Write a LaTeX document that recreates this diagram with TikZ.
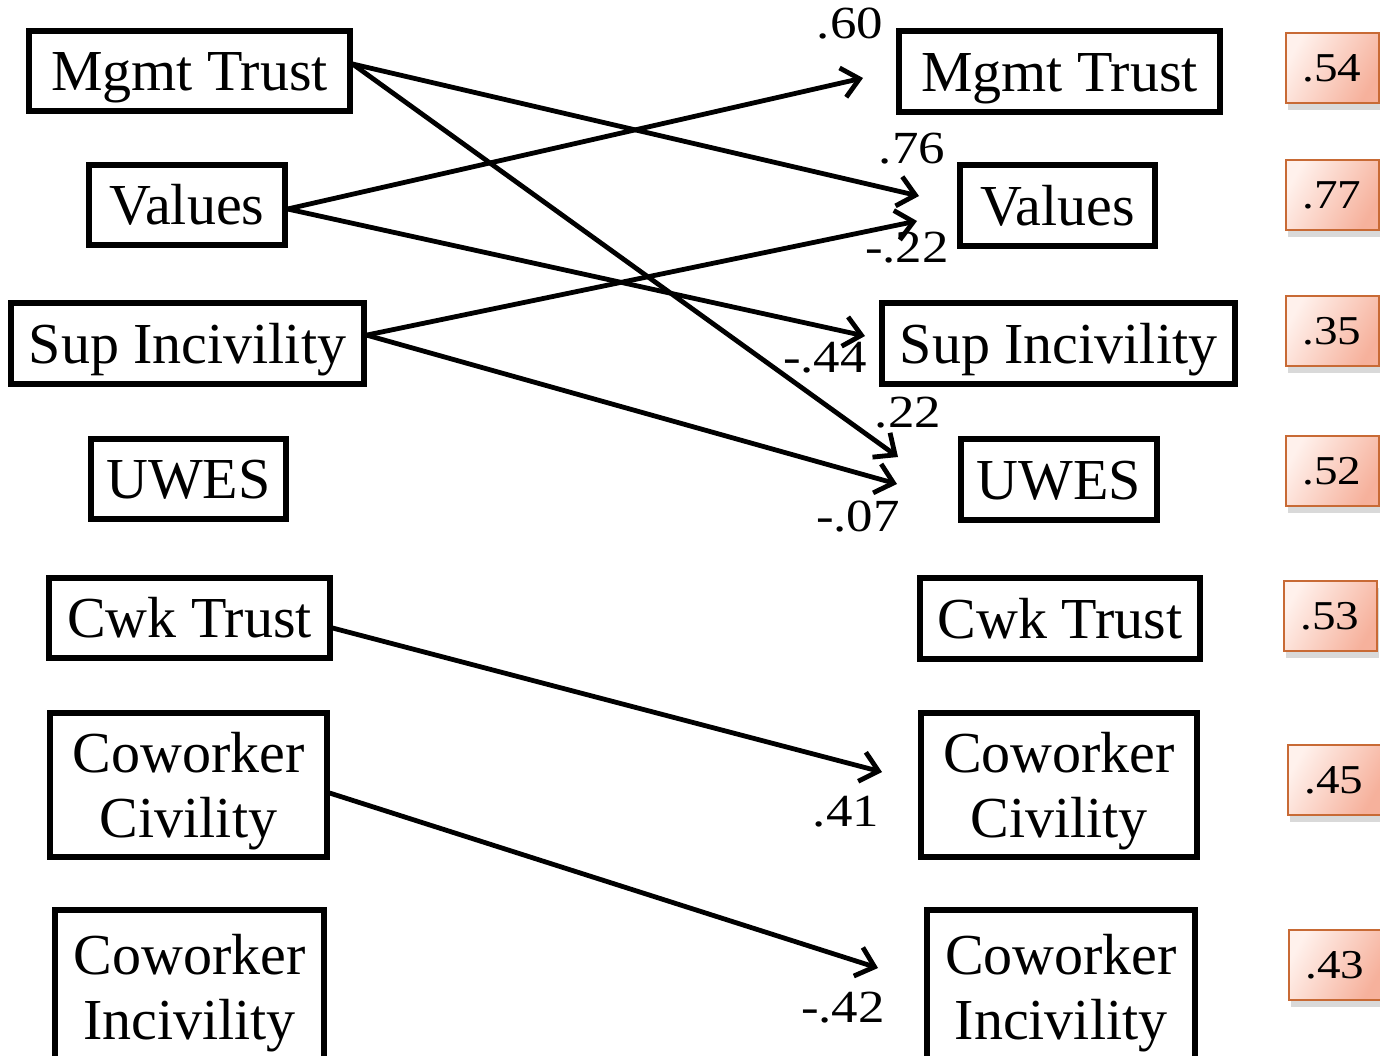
\documentclass[tikz,border=0pt]{standalone}
\usepackage{fontspec}
\setmainfont{Liberation Serif}
\newfontfamily\numfont[FakeStretch=1.15]{Liberation Serif}
\usetikzlibrary{arrows.meta,shadows}

\definecolor{rsqedge}{HTML}{C86A35}
\definecolor{rsqlight}{HTML}{FFF1EC}
\definecolor{rsqdark}{HTML}{F6B19C}

\begin{document}
\begin{tikzpicture}[x=0.5pt,y=-0.5pt,
  var/.style={draw,line width=2.6pt,rectangle,inner sep=0pt,align=center,
    text height=19.5pt,text depth=0pt,
    font=\fontsize{29}{32.5}\selectfont},
  twoline/.style={text height=52pt},
  link/.style={line width=2.4pt,-{Straight Barb[length=8.5pt,width=15pt]}},
  coef/.style={inner sep=0pt,font=\numfont\fontsize{23}{26}\selectfont},
  rsq/.style={draw=rsqedge,line width=1pt,rectangle,inner sep=0pt,
    minimum width=46.5pt,minimum height=35pt,
    left color=rsqlight,right color=rsqdark,shading angle=60,
    drop shadow={shadow xshift=1pt,shadow yshift=-3.5pt,opacity=0.3},
    font=\numfont\fontsize{20.5}{24}\selectfont}
]
\useasboundingbox (0,0) rectangle (1380,1055);

% predictors (left column)
\node[var,minimum width=160.5pt,minimum height=40pt] (lMgmt) at (189.5,71)  {Mgmt Trust};
\node[var,minimum width=98pt,minimum height=40pt]    (lVal)  at (187,205)   {Values};
\node[var,minimum width=176.5pt,minimum height=40.5pt] (lSup) at (187.5,343.5) {Sup Incivility};
\node[var,minimum width=97.5pt,minimum height=40pt]  (lUwes) at (188.5,479) {UWES};
\node[var,minimum width=140.5pt,minimum height=40pt] (lCwk)  at (189.5,618) {Cwk Trust};
\node[var,twoline,minimum width=138.5pt,minimum height=72pt] (lCiv)  at (188.5,785) {Coworker\\Civility};
\node[var,twoline,minimum width=134.5pt,minimum height=77pt] (lInc)  at (189.5,987) {Coworker\\Incivility};

% outcomes (right column)
\node[var,minimum width=160.5pt,minimum height=40.5pt] (rMgmt) at (1059.5,71.5) {Mgmt Trust};
\node[var,minimum width=97.5pt,minimum height=40.5pt]  (rVal)  at (1057.5,205.5) {Values};
\node[var,minimum width=176.5pt,minimum height=40.5pt] (rSup)  at (1058.5,343.5) {Sup Incivility};
\node[var,minimum width=98pt,minimum height=40.5pt]    (rUwes) at (1059,479.5) {UWES};
\node[var,minimum width=140pt,minimum height=40.5pt]   (rCwk)  at (1060,618.5) {Cwk Trust};
\node[var,twoline,minimum width=138pt,minimum height=72pt]     (rCiv)  at (1059,785) {Coworker\\Civility};
\node[var,twoline,minimum width=134pt,minimum height=77pt]     (rInc)  at (1061,987) {Coworker\\Incivility};

% arrow tips, just short of the outcome boxes
\coordinate (tMgmt)  at (863,78);
\coordinate (tVal1)  at (919,196);
\coordinate (tVal2)  at (917,221);
\coordinate (tSup)   at (865,336);
\coordinate (tUwes1) at (898,457);
\coordinate (tUwes2) at (897,484);
\coordinate (tCiv)   at (882,772);
\coordinate (tInc)   at (878,968);

% structural paths
\draw[link] ([yshift=3.5pt]lMgmt.east) -- (tVal1);
\draw[link] ([yshift=3.5pt]lMgmt.east) -- (tUwes1);
\draw[link] ([yshift=-2pt]lVal.east) -- (tMgmt);
\draw[link] ([yshift=-2pt]lVal.east) -- (tSup);
\draw[link] ([yshift=4.2pt]lSup.east) -- (tVal2);
\draw[link] ([yshift=4.2pt]lSup.east) -- (tUwes2);
\draw[link] ([yshift=-5pt]lCwk.east) -- (tCiv);
\draw[link] ([yshift=-4pt]lCiv.east) -- (tInc);

% path coefficients
\node[coef] (c60) at (850,24)   {.60};
\node[coef] (c76) at (912,149)  {.76};
\node[coef] (c22n) at (907,248) {-.22};
\node[coef] (c44) at (825,358)  {-.44};
\node[coef] (c22) at (908,413)  {.22};
\node[coef] (c07) at (858,517)  {-.07};
\node[coef] (c41) at (846,812)  {.41};
\node[coef] (c42) at (843,1008) {-.42};

% explained variance
\node[rsq] (s1) at (1332,68)  {.54};
\node[rsq] (s2) at (1332,195) {.77};
\node[rsq] (s3) at (1332,331) {.35};
\node[rsq] (s4) at (1332,471) {.52};
\node[rsq] (s5) at (1330,616) {.53};
\node[rsq] (s6) at (1334,780) {.45};
\node[rsq] (s7) at (1335,965) {.43};
\end{tikzpicture}
\end{document}
